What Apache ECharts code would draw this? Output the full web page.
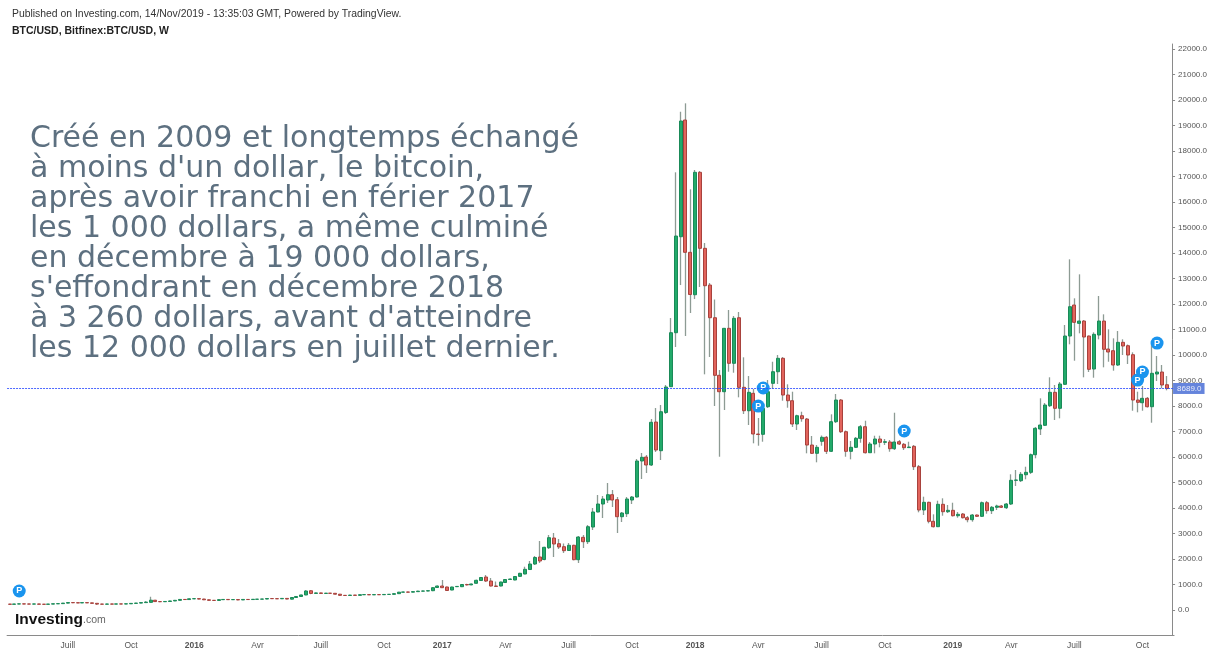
<!DOCTYPE html>
<html><head><meta charset="utf-8">
<style>html,body{margin:0;padding:0;background:#fff}#c{width:1215px;height:654px}</style>
<script src="https://cdn.jsdelivr.net/npm/echarts@6/dist/echarts.min.js"></script>
</head><body><div id="c"></div>
<script>
const opens=[230,225,236,240,236,233,237,226,224,233,244,250,270,292,285,278,290,280,262,232,228,235,232,238,236,243,260,272,290,300,385,330,325,335,355,380,415,410,440,445,430,400,380,375,405,415,405,410,395,415,410,420,425,430,450,445,440,455,425,490,530,590,755,650,670,650,660,655,620,575,570,585,575,600,605,595,605,600,610,615,640,700,705,700,720,740,745,
757,882,941,902,784,915,914,1000,985,1047,1157,1294,1137,941,941,1078,1196,1177,1320,1412,1588,1804,2079,1980,2443,2824,2600,2483,2334,2538,1973,2851,2679,3255,3844,4157,4314,4522,4326,3659,3777,4314,4432,5844,6000,5687,7373,6248,7746,8758,10876,14641,19218,14029,12366,17167,14186,12746,11464,9205,8562,11048,9676,11464,8734,7816,8499,6903,6891,7973,8891,9346,9872,8432,8209,7295,7620,7491,6471,6146,6616,6773,6224,7385,8236,6993,6224,6381,6734,7189,6169,6510,6707,6577,6589,6326,6601,6499,6369,6420,5620,3922,4224,3479,3267,4146,3855,3910,3698,3765,3620,3542,3726,3675,4208,3895,4028,4079,4012,4157,5087,5071,5306,5400,6091,7099,7244,8013,8538,7911,8852,10746,11962,11244,11334,10746,9452,10786,11334,10236,10170,9609,10499,10366,10013,8236,8130,8303,7973,9256,9334,8836];
const closes=[225,236,240,236,233,237,226,224,233,244,250,270,292,285,278,290,280,262,232,228,235,232,238,236,243,260,272,290,310,385,330,325,335,355,380,415,410,440,445,430,400,380,375,405,415,405,410,395,415,410,420,425,430,450,445,440,455,430,490,530,590,745,650,670,650,660,655,620,575,570,585,575,600,605,595,605,600,610,615,640,700,705,700,720,740,745,757,
875,941,875,765,902,925,1000,985,1020,1165,1275,1137,941,925,1098,1196,1216,1314,1439,1596,1804,2059,1922,2459,2836,2589,2471,2326,2538,1973,2863,2679,3267,3844,4157,4353,4522,4314,3659,3804,4353,4432,5844,5989,5687,7362,6275,7777,8746,10876,14668,19179,14029,12374,17167,14186,12719,11464,9205,8562,11048,9676,11440,8734,7816,8538,6903,6883,7911,8562,9346,9872,8432,8209,7295,7620,7503,6471,6146,6381,6773,6224,7385,8236,6993,6224,6381,6734,7189,6169,6510,6707,6577,6601,6326,6589,6510,6365,6393,5620,3922,4224,3479,3267,4146,3855,3910,3698,3753,3620,3542,3726,3675,4208,3895,4028,4079,4028,4157,5087,5099,5322,5400,6091,7126,7256,8040,8538,7911,8864,10746,11896,11283,11334,10707,9440,10813,11334,10225,10119,9609,10499,10354,10001,8236,8146,8303,7973,9283,9334,8825,8689];
const lows=[218,220,232,232,229,228,221,219,222,230,240,246,262,270,272,274,276,256,200,222,225,226,228,230,232,240,256,266,284,290,320,310,315,325,350,370,395,405,425,420,390,370,365,370,395,395,398,385,390,400,405,415,420,425,435,432,435,420,415,480,520,580,620,640,640,640,645,610,560,555,560,565,570,590,588,590,592,595,600,610,630,690,690,695,710,730,735,
740,870,865,750,775,900,900,960,975,1040,1150,1100,922,905,925,1065,1180,1165,1300,1400,1570,1765,1843,1950,2392,2079,2392,2236,2314,1950,1843,2432,2589,3138,3830,3608,4197,4040,3020,3451,3647,4157,4412,5138,5373,5648,6197,5883,7687,8746,10315,12746,10746,11648,12197,12668,9244,9923,8001,6012,7844,9346,9307,8342,7687,7256,6538,6444,6601,7922,8668,8864,8209,7934,7177,7060,7385,6146,6118,5793,6444,6118,6197,7334,6942,6012,5910,6354,6561,6138,6157,6146,6381,6471,6208,6275,6471,6275,6354,5491,3832,3726,3400,3236,3255,3698,3804,3667,3620,3589,3440,3463,3647,3647,3777,3765,3922,4000,3961,4118,4863,5020,5126,5334,5950,6864,7216,7962,7452,7518,8825,10421,9778,10852,9127,9334,9111,10617,9519,9738,9386,9570,10001,9648,7816,7754,7816,7942,7346,8981,8695,8617];
const highs=[238,240,246,245,240,241,240,232,238,252,257,276,300,310,296,298,296,284,268,240,242,240,244,244,248,266,280,298,345,520,395,345,345,365,395,425,425,455,465,460,440,410,390,415,425,425,420,418,425,422,430,435,440,460,458,452,465,462,500,540,600,780,780,685,680,670,668,660,630,585,595,592,610,615,612,612,612,618,622,650,710,720,715,735,755,760,775,
895,960,1177,920,915,940,1010,1030,1035,1190,1285,1373,1255,1118,1110,1210,1235,1330,1460,1698,1922,2118,2706,2480,2941,3020,2785,2608,2628,2560,2902,2941,3334,4000,4510,4471,4981,4706,4432,3844,4432,4471,5922,6158,6079,7491,7922,8040,8825,11452,17167,19543,19873,16500,17257,17218,14394,12825,12178,9413,11060,11766,11531,11688,9911,9177,8668,7530,8001,9021,9738,10001,9923,8852,8562,7660,7777,7530,6824,6471,6844,6824,7675,8472,8275,7040,6628,6785,7256,7424,6589,6836,6836,6707,6667,7738,6667,6550,6601,6471,5687,4444,4248,3753,4287,4381,4118,4208,3844,3804,3687,3765,3745,4255,4275,4079,4130,4118,4197,5322,5491,5412,5620,6138,7177,8303,8119,9127,8825,8942,11178,13754,12225,13166,11374,10766,10892,12315,11597,11009,10656,10942,10617,10413,10107,8562,8785,8354,10460,9962,9609,9177];
const yTicks=[0,1000,2000,3000,4000,5000,6000,7000,8000,9000,10000,11000,12000,13000,14000,15000,16000,17000,18000,19000,20000,21000,22000];
const xTickIndex=[12,25,38,51,64,77,89,102,115,128,141,154,167,180,194,206,219,233];
const xTickLabels=['Juill','Oct','2016','Avr','Juill','Oct','2017','Avr','Juill','Oct','2018','Avr','Juill','Oct','2019','Avr','Juill','Oct'];
const pIndex=[2,154,155,184,232,233,236];
const pValue=[745,8000,8707,7020,9020,9335,10470];
const lastPrice=8689;
const noteLines=["Créé en 2009 et longtemps échangé","à moins d'un dollar, le bitcoin,","après avoir franchi en férier 2017","les 1 000 dollars, a même culminé","en décembre à 19 000 dollars,","s'effondrant en décembre 2018","à 3 260 dollars, avant d'atteindre","les 12 000 dollars en juillet dernier."];
const published='Published on Investing.com, 14/Nov/2019 - 13:35:03 GMT, Powered by TradingView.';
const symbol='BTC/USD, Bitfinex:BTC/USD, W';

const cats=[];for(let i=0;i<240;i++)cats.push('w'+i);
const labelOf={};xTickIndex.forEach((ix,k)=>labelOf[cats[ix]]=xTickLabels[k]);
const sans='"Liberation Sans", Arial, sans-serif';
const wicks=opens.map((o,i)=>[o,closes[i],lows[i],highs[i]]);
const bodies=opens.map((o,i)=>[o,closes[i],Math.min(o,closes[i]),Math.max(o,closes[i])]);
const chart=echarts.init(document.getElementById('c'),null,{renderer:'canvas'});
chart.setOption({
 animation:false,backgroundColor:'#fff',
 title:[
  {text:published,left:12,top:9,padding:0,textStyle:{fontFamily:sans,fontSize:10.4,fontWeight:'normal',color:'#333'}},
  {text:symbol,left:12,top:26,padding:0,textStyle:{fontFamily:sans,fontSize:10.5,fontWeight:'bold',color:'#222'}},
  {text:noteLines.join('\n'),left:30,top:124,padding:0,textStyle:{fontFamily:'"DejaVu Sans", sans-serif',fontSize:30,lineHeight:30,fontWeight:'normal',color:'#5d7080'}},
  {text:'{a|Investing}{b|.com}',left:15,top:612,padding:0,textStyle:{rich:{a:{fontFamily:sans,fontSize:15.5,fontWeight:'bold',color:'#111'},b:{fontFamily:sans,fontSize:10.5,fontWeight:'normal',color:'#666'}}}}
 ],
 grid:{left:7.07,width:1167,top:44,height:591.5,containLabel:false},
 xAxis:{type:'category',data:cats,boundaryGap:true,
  axisLine:{onZero:false,lineStyle:{color:'#8a8a8a',width:1}},
  axisTick:{alignWithLabel:true,length:3,lineStyle:{color:'#8a8a8a'},customValues:xTickIndex},
  axisLabel:{customValues:xTickIndex,margin:6,fontFamily:sans,fontSize:8.5,color:'#555',
   formatter:v=>{const t=labelOf[v]||'';return /^\d/.test(t)?'{b|'+t+'}':t;},
   rich:{b:{fontFamily:sans,fontSize:8.5,fontWeight:'bold',color:'#555'}}},
  splitLine:{show:false}},
 yAxis:{type:'value',position:'right',offset:-2,min:-1000,max:22200,scale:false,
  axisLine:{show:true,lineStyle:{color:'#8a8a8a',width:1}},
  axisTick:{show:true,length:3,lineStyle:{color:'#8a8a8a'},customValues:yTicks},
  axisLabel:{customValues:yTicks,margin:6,fontFamily:sans,fontSize:8,color:'#555',formatter:v=>v.toFixed(1)},
  splitLine:{show:false}},
 series:[
  {type:'candlestick',name:'wick',data:wicks,barWidth:1,z:2,silent:true,
   itemStyle:{color:'#8d9b94',color0:'#8d9b94',borderColor:'#8d9b94',borderColor0:'#8d9b94',borderWidth:1.3},
   markLine:{silent:true,symbol:'none',animation:false,z:6,
    lineStyle:{color:'#2f4fff',type:[2,1],width:1,opacity:0.85},
    label:{show:true,position:'end',distance:-1,formatter:p=>p.value.toFixed(1),color:'#fff',backgroundColor:'#4a6fd6',padding:[1.5,3,1.5,4],fontFamily:sans,fontSize:8},
    data:[{yAxis:lastPrice}]}},
  {type:'candlestick',name:'BTC/USD',data:bodies,barWidth:3.5,z:3,silent:true,
   itemStyle:{color:'#22aa6a',color0:'#e2645c',borderColor:'#1a8a58',borderColor0:'#a8423d',borderWidth:1}},
  {type:'scatter',name:'P',z:5,symbol:'circle',symbolSize:13,silent:true,
   data:pIndex.map((ix,k)=>[ix,pValue[k]]),
   itemStyle:{color:'#1a94ee',opacity:1},
   label:{show:true,position:'inside',formatter:'P',color:'#fff',fontFamily:sans,fontSize:9,fontWeight:'bold'}}
 ]
});
</script></body></html>
